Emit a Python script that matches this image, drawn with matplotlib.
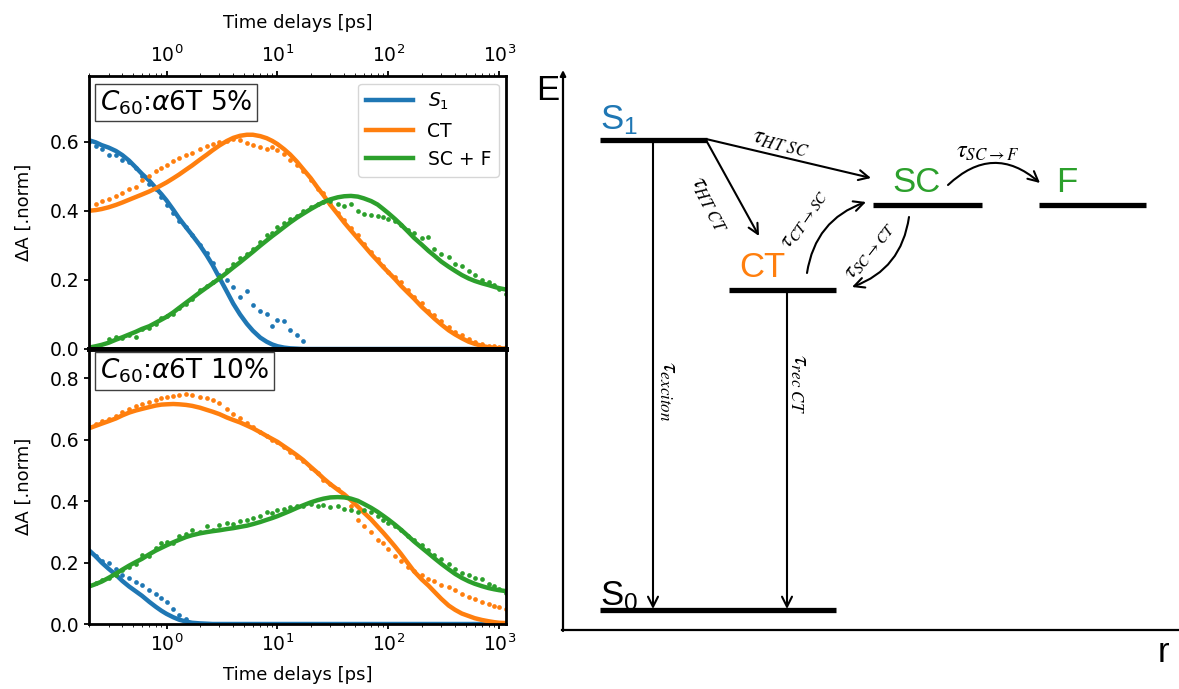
import matplotlib
matplotlib.use("Agg")
import matplotlib.pyplot as plt
import numpy as np

nan = np.nan

# time delays [ps] (shared grid for both panels)
delay = [0.2, 0.23, 0.26, 0.3, 0.35, 0.4, 0.46, 0.53, 0.6, 0.7,
         0.8, 0.9, 1.0, 1.15, 1.3, 1.5, 1.7, 2.0, 2.3, 2.6,
         3.0, 3.5, 4.0, 4.6, 5.3, 6.0, 7.0, 8.0, 9.0, 10,
         11.5, 13, 15, 17, 20, 23, 26, 30, 35, 40,
         46, 53, 60, 70, 80, 90, 100, 115, 130, 150,
         170, 200, 230, 260, 300, 350, 400, 460, 530, 600,
         700, 800, 900, 1000, 1150]

# ---- C60:a6T 5% ----
s1_fit_5 = [0.604, 0.598, 0.590, 0.583, 0.573, 0.561, 0.545, 0.525, 0.507, 0.487,
            0.466, 0.448, 0.430, 0.403, 0.378, 0.352, 0.330, 0.300, 0.271, 0.243,
            0.206, 0.166, 0.131, 0.100, 0.073, 0.053, 0.033, 0.021, 0.013, 0.008,
            0.004, 0.002, 0.001, 0.0, 0.0, 0.0, 0.0, 0.0, 0.0, 0.0,
            0.0, 0.0, 0.0, 0.0, 0.0, 0.0, 0.0, 0.0, 0.0, 0.0,
            0.0, 0.0, 0.0, 0.0, 0.0, 0.0, 0.0, 0.0, 0.0, 0.0,
            0.0, 0.0, 0.0, 0.0, 0.0]
ct_fit_5 = [0.400, 0.402, 0.405, 0.410, 0.417, 0.424, 0.432, 0.440, 0.447, 0.456,
            0.465, 0.474, 0.482, 0.494, 0.505, 0.519, 0.531, 0.548, 0.562, 0.575,
            0.589, 0.602, 0.611, 0.617, 0.620, 0.620, 0.616, 0.610, 0.602, 0.593,
            0.578, 0.563, 0.542, 0.521, 0.494, 0.467, 0.445, 0.417, 0.390, 0.366,
            0.343, 0.320, 0.300, 0.275, 0.255, 0.237, 0.222, 0.202, 0.183, 0.163,
            0.146, 0.122, 0.104, 0.088, 0.071, 0.054, 0.042, 0.031, 0.021, 0.015,
            0.009, 0.005, 0.003, 0.002, 0.001]
scf_fit_5 = [0.004, 0.008, 0.012, 0.018, 0.027, 0.034, 0.042, 0.050, 0.058, 0.066,
             0.076, 0.085, 0.093, 0.106, 0.119, 0.134, 0.147, 0.164, 0.178, 0.190,
             0.204, 0.221, 0.236, 0.251, 0.267, 0.281, 0.299, 0.314, 0.327, 0.338,
             0.353, 0.366, 0.380, 0.391, 0.405, 0.416, 0.425, 0.433, 0.439, 0.442,
             0.443, 0.441, 0.436, 0.428, 0.418, 0.405, 0.393, 0.376, 0.360, 0.340,
             0.322, 0.302, 0.284, 0.270, 0.253, 0.238, 0.226, 0.214, 0.204, 0.197,
             0.190, 0.185, 0.180, 0.176, 0.172]
s1_dat_5 = [0.600, 0.588, 0.578, 0.562, 0.560, 0.548, 0.540, 0.525, 0.500, 0.478,
            0.462, 0.440, 0.418, 0.395, 0.370, 0.352, 0.330, 0.300, 0.278, 0.250,
            0.215, 0.200, 0.178, 0.150, 0.168, 0.128, 0.110, 0.102, 0.068, 0.085,
            0.082, 0.055, 0.040, 0.022, nan, nan, nan, nan, nan, nan,
            nan, nan, nan, nan, nan, nan, nan, nan, nan, nan,
            nan, nan, nan, nan, nan, nan, nan, nan, nan, nan,
            nan, nan, nan, nan, nan]
ct_dat_5 = [nan, 0.420, 0.428, 0.435, 0.442, 0.452, 0.462, 0.470, 0.488, 0.500,
            0.515, 0.525, 0.532, 0.545, 0.552, 0.560, 0.568, 0.580, 0.588, 0.592,
            0.598, 0.603, 0.607, 0.605, 0.596, 0.590, 0.585, 0.578, 0.585, 0.575,
            0.565, 0.548, 0.532, 0.515, 0.490, 0.462, 0.450, 0.420, 0.395, 0.372,
            0.350, 0.330, 0.305, 0.282, 0.260, 0.240, 0.222, 0.208, 0.195, 0.170,
            0.150, 0.132, 0.110, 0.098, 0.080, 0.064, 0.050, 0.040, 0.028, 0.020,
            0.014, 0.010, 0.008, 0.006, 0.005]
scf_dat_5 = [nan, nan, nan, 0.030, 0.035, 0.032, 0.040, 0.036, 0.058, 0.062,
             0.072, 0.090, 0.095, 0.100, 0.118, 0.130, 0.145, 0.170, 0.182, 0.195,
             0.208, 0.228, 0.245, 0.262, 0.275, 0.290, 0.310, 0.330, 0.335, 0.352,
             0.365, 0.375, 0.385, 0.398, 0.410, 0.420, 0.425, 0.428, 0.420, 0.415,
             0.420, 0.400, 0.392, 0.388, 0.385, 0.382, 0.375, 0.370, 0.360, 0.345,
             0.335, 0.320, 0.325, 0.290, 0.275, 0.265, 0.245, 0.240, 0.225, 0.215,
             0.200, 0.195, 0.185, 0.175, 0.160]

# ---- C60:a6T 10% ----
s1_fit_10 = [0.240, 0.220, 0.200, 0.180, 0.160, 0.140, 0.122, 0.106, 0.092, 0.072,
             0.056, 0.043, 0.033, 0.022, 0.014, 0.008, 0.004, 0.002, 0.001, 0.0,
             0.0, 0.0, 0.0, 0.0, 0.0, 0.0, 0.0, 0.0, 0.0, 0.0,
             0.0, 0.0, 0.0, 0.0, 0.0, 0.0, 0.0, 0.0, 0.0, 0.0,
             0.0, 0.0, 0.0, 0.0, 0.0, 0.0, 0.0, 0.0, 0.0, 0.0,
             0.0, 0.0, 0.0, 0.0, 0.0, 0.0, 0.0, 0.0, 0.0, 0.0,
             0.0, 0.0, 0.0, 0.0, 0.0]
ct_fit_10 = [0.637, 0.645, 0.652, 0.660, 0.669, 0.679, 0.688, 0.695, 0.700, 0.706,
             0.711, 0.714, 0.715, 0.716, 0.715, 0.713, 0.710, 0.704, 0.697, 0.691,
             0.683, 0.672, 0.664, 0.656, 0.646, 0.637, 0.624, 0.612, 0.602, 0.593,
             0.578, 0.565, 0.549, 0.534, 0.511, 0.492, 0.474, 0.455, 0.437, 0.422,
             0.403, 0.382, 0.363, 0.340, 0.317, 0.297, 0.278, 0.252, 0.228, 0.198,
             0.172, 0.145, 0.125, 0.105, 0.082, 0.060, 0.046, 0.034, 0.026, 0.019,
             0.013, 0.009, 0.006, 0.004, 0.003]
scf_fit_10 = [0.122, 0.130, 0.138, 0.150, 0.164, 0.177, 0.190, 0.202, 0.212, 0.227,
              0.239, 0.248, 0.256, 0.266, 0.274, 0.283, 0.289, 0.295, 0.299, 0.302,
              0.305, 0.309, 0.312, 0.316, 0.320, 0.325, 0.332, 0.339, 0.345, 0.351,
              0.360, 0.368, 0.378, 0.386, 0.396, 0.403, 0.408, 0.412, 0.413, 0.412,
              0.408, 0.401, 0.391, 0.378, 0.365, 0.352, 0.340, 0.323, 0.307, 0.287,
              0.269, 0.248, 0.230, 0.214, 0.196, 0.178, 0.163, 0.150, 0.139, 0.131,
              0.123, 0.117, 0.113, 0.110, 0.107]
s1_dat_10 = [0.235, 0.220, 0.205, 0.200, 0.178, 0.160, 0.150, 0.138, 0.128, 0.112,
             0.098, 0.085, 0.070, 0.048, 0.030, 0.015, nan, nan, nan, nan,
             nan, nan, nan, nan, nan, nan, nan, nan, nan, nan,
             nan, nan, nan, nan, nan, nan, nan, nan, nan, nan,
             nan, nan, nan, nan, nan, nan, nan, nan, nan, nan,
             nan, nan, nan, nan, nan, nan, nan, nan, nan, nan,
             nan, nan, nan, nan, nan]
ct_dat_10 = [0.640, 0.650, 0.660, 0.668, 0.678, 0.690, 0.700, 0.710, 0.715, 0.722,
             0.728, 0.735, 0.738, 0.742, 0.745, 0.750, 0.745, 0.738, 0.735, 0.728,
             0.718, 0.700, 0.685, 0.670, 0.655, 0.640, 0.625, 0.612, 0.600, 0.592,
             0.575, 0.560, 0.545, 0.530, 0.508, 0.490, 0.470, 0.455, 0.440, 0.418,
             0.385, 0.340, 0.320, 0.300, 0.275, 0.262, 0.245, 0.222, 0.205, 0.185,
             0.172, 0.160, 0.148, 0.140, 0.128, 0.122, 0.110, 0.098, 0.088, 0.080,
             0.072, 0.065, 0.060, 0.055, 0.050]
scf_dat_10 = [0.128, 0.135, 0.142, 0.150, 0.160, 0.175, 0.185, 0.195, 0.225, 0.222,
              0.248, 0.262, 0.268, 0.262, 0.285, 0.292, 0.305, 0.300, 0.318, 0.305,
              0.322, 0.330, 0.325, 0.335, 0.340, 0.345, 0.350, 0.365, 0.362, 0.372,
              0.375, 0.380, 0.383, 0.385, 0.390, 0.385, 0.388, 0.382, 0.385, 0.375,
              0.370, 0.365, 0.372, 0.365, 0.352, 0.338, 0.330, 0.318, 0.305, 0.285,
              0.272, 0.258, 0.240, 0.225, 0.210, 0.195, 0.180, 0.165, 0.160, 0.150,
              0.145, 0.130, 0.125, 0.115, 0.100]

series_names = ['$S_1$', 'CT', 'SC + F']
colors = ['#1f77b4', '#ff7f0e', '#2ca02c']

# energy diagram (pixel-like coordinates of the right panel)
level_names = [r'$\mathrm{S}_1$', 'CT', 'SC', 'F', r'$\mathrm{S}_0$']
level_x0 = [600, 729, 873, 1039, 600]
level_x1 = [707, 836, 982, 1146, 836]
level_y = [140, 290, 205, 205, 610]
level_colors = ['#1f77b4', '#ff7f0e', '#2ca02c', '#2ca02c', 'black']
label_xy = [(600, 129), (739, 277), (892, 192), (1056, 192), (600, 605)]

plt.rcParams['mathtext.rm'] = 'Liberation Sans'
plt.rcParams['mathtext.it'] = 'Liberation Sans:italic'

fig = plt.figure(figsize=(11.79, 6.89), dpi=100)
W, H = 1179, 689
ax1 = fig.add_axes([89 / W, 1 - 349 / H, 417 / W, 273 / H])
ax2 = fig.add_axes([89 / W, 1 - 624 / H, 417 / W, 275 / H])

panels = [
    (ax1, [s1_fit_5, ct_fit_5, scf_fit_5], [s1_dat_5, ct_dat_5, scf_dat_5],
     r'$C_{60}$:$\alpha$6T 5%', 0.79, [0, 0.2, 0.4, 0.6], 0.955),
    (ax2, [s1_fit_10, ct_fit_10, scf_fit_10], [s1_dat_10, ct_dat_10, scf_dat_10],
     r'$C_{60}$:$\alpha$6T 10%', 0.895, [0, 0.2, 0.4, 0.6, 0.8], 0.972),
]

for ax, fits, dats, title, ytop, yt, ty in panels:
    for fit, dat, name, c in zip(fits, dats, series_names, colors):
        ax.plot(delay, dat, 'o', color=c, ms=3.4, mew=0)
        ax.plot(delay, fit, '-', color=c, lw=3.2, label=name)
    ax.set_xscale('log')
    ax.set_xlim(0.2, 1150)
    ax.set_ylim(0, ytop)
    ax.set_yticks(yt)
    ax.set_ylabel('ΔA [.norm]', fontsize=13, labelpad=12)
    ax.tick_params(labelsize=13.5, width=1.3)
    for s in ax.spines.values():
        s.set_linewidth(2)
    ax.text(0.026, ty, title, transform=ax.transAxes,
            fontsize=19, va='top', ha='left',
            bbox=dict(boxstyle='square,pad=0.17', fc='white', ec='0.25', lw=1))

ax1.spines['bottom'].set_linewidth(3.5)
ax2.spines['top'].set_linewidth(3.5)
ax1.xaxis.tick_top()
ax1.xaxis.set_label_position('top')
ax1.set_xlabel('Time delays [ps]', fontsize=13, labelpad=12)
ax2.set_xlabel('Time delays [ps]', fontsize=13, labelpad=8)
ax1.legend(loc='upper right', fontsize=13.5, handlelength=2.5, borderaxespad=0.4)

# ---- energy diagram ----
ax3 = fig.add_axes([540 / W, 0, 639 / W, 1])
ax3.set_xlim(540, 1179)
ax3.set_ylim(689, 0)
ax3.axis('off')

ax3.annotate('', xy=(563, 70), xytext=(563, 631),
             arrowprops=dict(arrowstyle='-|>', lw=1.6, color='black',
                             mutation_scale=8, shrinkA=0, shrinkB=0))
ax3.plot([562, 1179], [630, 630], color='black', lw=1.6)
ax3.text(536, 100, 'E', fontsize=25, family='Liberation Sans')
ax3.text(1158, 662, 'r', fontsize=25, family='Liberation Sans')

for name, x0, x1, y, c, (tx, ty) in zip(level_names, level_x0, level_x1,
                                         level_y, level_colors, label_xy):
    ax3.plot([x0, x1], [y, y], color='black', lw=3.8, solid_capstyle='butt')
    ax3.text(tx, ty, name, color=c, fontsize=25, family='Liberation Sans',
             math_fontfamily='custom', ha='left', va='baseline')

arrow = dict(arrowstyle='->', lw=1.5, color='black', mutation_scale=18,
             shrinkA=0, shrinkB=0)
# straight transfers
ax3.annotate('', xy=(871, 178), xytext=(706, 139), arrowprops=arrow)
ax3.annotate('', xy=(759, 236), xytext=(706, 140), arrowprops=arrow)
ax3.annotate('', xy=(653, 609), xytext=(653, 141), arrowprops=arrow)
ax3.annotate('', xy=(787, 609), xytext=(787, 291), arrowprops=arrow)
# curved transfers
ax3.annotate('', xy=(866, 202), xytext=(807, 273),
             arrowprops=dict(arrow, connectionstyle='arc3,rad=-0.3'))
ax3.annotate('', xy=(852, 287), xytext=(909, 217),
             arrowprops=dict(arrow, connectionstyle='arc3,rad=-0.3'))
ax3.annotate('', xy=(1040, 183), xytext=(948, 185),
             arrowprops=dict(arrow, connectionstyle='arc3,rad=-0.45'))

tau = dict(fontsize=17.5, math_fontfamily='stix', ha='center', va='center')
ax3.text(781, 142, r'$\tau_{HT\ SC}$', rotation=-13, **tau)
ax3.text(711, 204, r'$\tau_{HT\ CT}$', rotation=-62, **tau)
ax3.text(804, 218, r'$\tau_{CT\rightarrow SC}$', rotation=56,
         **dict(tau, fontsize=16))
ax3.text(869, 250, r'$\tau_{SC\rightarrow CT}$', rotation=52,
         **dict(tau, fontsize=16))
ax3.text(988, 151, r'$\tau_{SC\rightarrow F}$', rotation=0, **tau)
ax3.text(669, 391, r'$\tau_{exciton}$', rotation=-90, **tau)
ax3.text(800, 384, r'$\tau_{rec\ CT}$', rotation=-90, **tau)

fig.savefig('out.png', dpi=100)
